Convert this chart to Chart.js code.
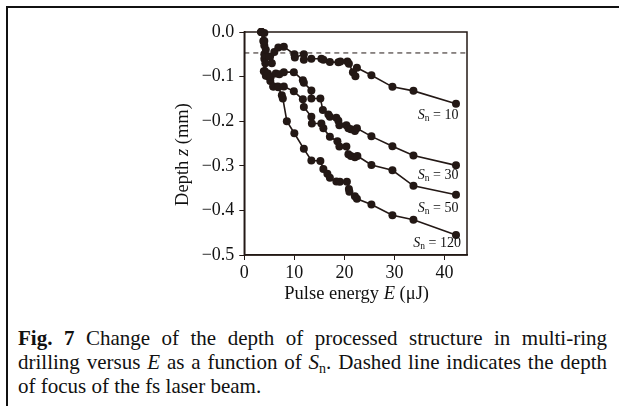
<!DOCTYPE html>
<html>
<head>
<meta charset="utf-8">
<script src="https://cdn.jsdelivr.net/npm/chart.js@4.4.1/dist/chart.umd.min.js"></script>
<style>
  html,body{margin:0;padding:0;background:#fff;}
  body{width:619px;height:406px;position:relative;overflow:hidden;}
  #frame{position:absolute;left:6px;top:6px;width:640px;height:420px;border-top:2px solid #111;border-left:2px solid #111;box-sizing:border-box;}
  #wrap{position:absolute;left:0;top:0;width:619px;height:320px;}
  #caption{position:absolute;left:18px;top:326px;width:589px;font-family:"Liberation Serif","Times New Roman",serif;font-size:21px;line-height:24px;color:#111;}
  #caption .j{text-align:justify;text-align-last:justify;white-space:nowrap;}
  #caption .j{white-space:normal;}
  #caption sub{font-size:14px;line-height:0;vertical-align:-4px;}
</style>
</head>
<body>
<div id="frame"></div>
<div id="wrap"><canvas id="c" width="619" height="320"></canvas></div>
<div id="caption">
  <div class="j"><b>Fig. 7</b> Change of the depth of processed structure in multi-ring</div>
  <div class="j">drilling versus <i>E</i> as a function of <i>S</i><sub>n</sub>. Dashed line indicates the depth</div>
  <div>of focus of the fs laser beam.</div>
</div>
<script>
// ---- data (pulse energy E in µJ, depth z in mm) ----
const sn10E = [3.4, 4.0, 3.9, 4.3, 5.0, 5.5, 6.0, 6.8, 7.9, 10.0, 10.1, 11.9, 11.9, 13.4, 15.4, 15.8, 17.1, 18.8, 19.2, 20.6, 20.9, 21.7, 22.2, 22.5, 25.4, 29.6, 33.8, 42.3];
const sn10Z = [0, -0.002, -0.02, -0.04, -0.055, -0.07, -0.045, -0.035, -0.033, -0.05, -0.057, -0.05, -0.062, -0.06, -0.06, -0.062, -0.067, -0.068, -0.066, -0.066, -0.071, -0.09, -0.099, -0.08, -0.097, -0.123, -0.132, -0.161];

const sn30E = [3.4, 4.0, 4.0, 4.1, 4.7, 5.3, 6.3, 7.0, 7.9, 9.9, 11.7, 11.9, 13.4, 13.4, 15.2, 15.7, 16.8, 17.1, 18.4, 18.8, 19.0, 20.4, 20.8, 21.3, 22.1, 22.5, 25.4, 29.6, 33.8, 42.3];
const sn30Z = [0, -0.02, -0.05, -0.088, -0.093, -0.1, -0.093, -0.095, -0.09, -0.09, -0.108, -0.114, -0.131, -0.149, -0.149, -0.175, -0.185, -0.19, -0.192, -0.199, -0.209, -0.209, -0.216, -0.218, -0.222, -0.216, -0.234, -0.256, -0.277, -0.299];

const sn50E = [3.4, 4.0, 4.2, 4.3, 5.2, 5.8, 6.8, 7.9, 9.9, 11.7, 11.9, 13.4, 13.5, 15.4, 15.8, 17.1, 18.6, 19.0, 20.4, 20.8, 21.3, 22.1, 22.6, 25.4, 29.6, 33.8, 42.3];
const sn50Z = [0, -0.03, -0.07, -0.098, -0.11, -0.122, -0.124, -0.122, -0.133, -0.151, -0.168, -0.19, -0.205, -0.205, -0.216, -0.235, -0.245, -0.257, -0.257, -0.274, -0.278, -0.281, -0.278, -0.298, -0.31, -0.345, -0.365];

const sn120E = [3.4, 3.8, 4.0, 3.9, 4.8, 5.8, 6.7, 7.5, 7.7, 8.5, 10.0, 11.9, 13.4, 15.2, 15.8, 16.6, 17.1, 18.4, 19.1, 20.5, 20.9, 21.0, 22.1, 22.5, 25.4, 29.6, 33.8, 42.3];
const sn120Z = [0, -0.02, -0.06, -0.088, -0.1, -0.122, -0.122, -0.142, -0.149, -0.2, -0.227, -0.262, -0.288, -0.289, -0.307, -0.318, -0.327, -0.335, -0.336, -0.336, -0.352, -0.358, -0.368, -0.374, -0.387, -0.411, -0.421, -0.455];

const focusDepth = -0.047;            // dashed line
const focusRange = [0, 44.5];
const xTicks = [0, 10, 20, 30, 40];
const yTicks = [0, -0.1, -0.2, -0.3, -0.4, -0.5];

// series labels: [S_n value, E anchor (right end), z anchor]
const seriesLabels = [["10", 42.8, -0.187], ["30", 42.8, -0.322], ["50", 42.8, -0.396], ["120", 43.3, -0.474]];

const INK = '#231815';
const SERIF = '"Liberation Serif","Times New Roman",serif';

function pts(E, Z){ return E.map((e,i)=>({x:e, y:Z[i]})); }
function series(E, Z){
  return {data: pts(E,Z), showLine:true, borderColor:INK, backgroundColor:INK,
          borderWidth:1.6, pointRadius:4, pointHoverRadius:4, pointBorderWidth:0, clip:false};
}

function drawRuns(ctx, runs, x, y, align){
  let w = 0;
  runs.forEach(r=>{ ctx.font = r[1]; w += ctx.measureText(r[0]).width; });
  let cx = align === 'right' ? x - w : (align === 'center' ? x - w/2 : x);
  ctx.textBaseline = 'middle';
  ctx.textAlign = 'left';
  runs.forEach(r=>{ ctx.font = r[1]; ctx.fillText(r[0], cx, y + (r[2]||0)); cx += ctx.measureText(r[0]).width; });
}

const decor = {
  id:'decor',
  afterDatasetsDraw(chart){
    const {ctx, chartArea:a, scales:{x, y}} = chart;
    ctx.save();
    ctx.strokeStyle = INK; ctx.lineWidth = 1.5;
    ctx.strokeRect(a.left, a.top, a.right - a.left, a.bottom - a.top);
    ctx.fillStyle = '#111';
    seriesLabels.forEach(l=>{
      drawRuns(ctx, [["S", "italic 14px "+SERIF, 0], ["n", "9.5px "+SERIF, 3], [" = "+l[0], "14px "+SERIF, 0]],
               x.getPixelForValue(l[1]), y.getPixelForValue(l[2]), 'right');
    });
    const xt = [["Pulse energy ", "18.5px "+SERIF], ["E", "italic 18.5px "+SERIF], [" (\u03BCJ)", "18.5px "+SERIF]];
    drawRuns(ctx, xt, (a.left + a.right)/2 + 1, a.bottom + 39, 'center');
    ctx.save();
    ctx.translate(a.left - 61, (a.top + a.bottom)/2 + 11);
    ctx.rotate(-Math.PI/2);
    drawRuns(ctx, [["Depth ", "18.5px "+SERIF], ["z", "italic 18.5px "+SERIF], [" (mm)", "18.5px "+SERIF]], 0, 0, 'center');
    ctx.restore();
    ctx.restore();
  }
};

new Chart(document.getElementById('c'), {
  type:'scatter',
  data:{datasets:[
    {data: focusRange.map(e=>({x:e, y:focusDepth})), showLine:true, borderColor:INK, borderWidth:1,
     borderDash:[5,4], pointRadius:0, pointHoverRadius:0},
    series(sn10E, sn10Z), series(sn30E, sn30Z), series(sn50E, sn50Z), series(sn120E, sn120Z)
  ]},
  options:{
    responsive:false, animation:false, events:[],
    layout:{padding:{left:150, top:32, right:152, bottom:14}},
    plugins:{legend:{display:false}, tooltip:{enabled:false}},
    scales:{
      x:{type:'linear', min:0, max:focusRange[1],
         afterBuildTicks(s){ s.ticks = xTicks.map(v=>({value:v})); },
         afterFit(s){ s.height = 51; },
         ticks:{font:{family:SERIF, size:18}, color:'#111', padding:2, maxRotation:0,
                callback:v=>String(v)},
         grid:{display:true, drawOnChartArea:false, drawTicks:true, tickLength:5, color:INK, lineWidth:1},
         border:{display:true, color:INK, width:1.5}},
      y:{type:'linear', min:-0.5, max:0,
         afterBuildTicks(s){ s.ticks = yTicks.map(v=>({value:v})); },
         afterFit(s){ s.width = 94.3; },
         ticks:{font:{family:SERIF, size:18}, color:'#111', padding:5,
                callback:v=> Math.abs(v) < 1e-9 ? '0.0' : '\u2212' + Math.abs(v).toFixed(1)},
         grid:{display:true, drawOnChartArea:false, drawTicks:true, tickLength:5, color:INK, lineWidth:1},
         border:{display:true, color:INK, width:1.5}}
    }
  },
  plugins:[decor]
});
</script>
</body>
</html>
